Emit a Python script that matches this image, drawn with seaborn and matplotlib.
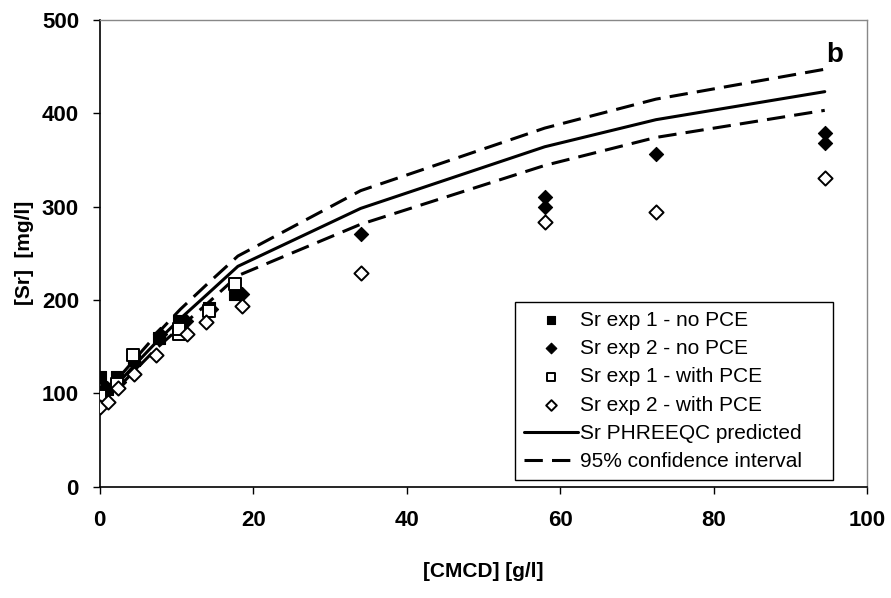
import matplotlib
matplotlib.use('Agg')
import matplotlib.pyplot as plt
import seaborn as sns

exp1_no_x = [0, 0, 1, 2.3, 4.5, 7.7, 10.3, 14.3, 17.6]
exp1_no_y = [117, 98, 105, 117, 136, 159, 178, 191, 206]

exp2_no_x = [0, 1, 2.5, 4.6, 7.8, 11.2, 14.5, 18.6, 34, 58, 58, 72.5, 94.5, 94.5]
exp2_no_y = [100, 106, 112, 133, 164, 178, 190, 206, 271, 299, 310, 356, 368, 379]

exp1_pce_x = [0, 2.3, 4.3, 10.3, 10.3, 14.3, 17.6]
exp1_pce_y = [97, 110, 141, 164, 169, 188, 217]

exp2_pce_x = [0, 1.1, 2.4, 4.5, 7.3, 11.4, 13.8, 18.6, 34, 58, 72.5, 94.5]
exp2_pce_y = [85, 91, 106, 121, 141, 164, 176, 194, 229, 283, 294, 331]

# PHREEQC model
model_x = [0, 1, 2.5, 4.5, 7.5, 10.5, 14, 18, 34, 58, 72.5, 94.5]
model_pred = [92, 100, 112, 130, 156, 180, 206, 236, 298, 364, 393, 423]
model_upper = [96, 104, 117, 136, 164, 190, 217, 247, 317, 384, 415, 447]
model_lower = [88, 96, 107, 124, 149, 171, 196, 226, 281, 344, 374, 403]

sns.set_style('white')
plt.rcParams['font.family'] = ['Liberation Sans', 'DejaVu Sans']
plt.rcParams['text.color'] = 'black'
plt.rcParams['axes.labelcolor'] = 'black'
plt.rcParams['xtick.color'] = 'black'
plt.rcParams['ytick.color'] = 'black'

fig = plt.figure(figsize=(8.91, 5.98), dpi=100)
ax = fig.add_axes([0.112, 0.186, 0.861, 0.781])

ms = 65
pad = '    '  # trailing space widens the legend box on the right
sns.scatterplot(x=exp1_no_x, y=exp1_no_y, ax=ax, marker='s', s=ms, color='black',
                edgecolor='black', linewidth=0.8, label='Sr exp 1 - no PCE' + pad, zorder=3)
sns.scatterplot(x=exp2_no_x, y=exp2_no_y, ax=ax, marker='D', s=ms * 0.8, color='black',
                edgecolor='black', linewidth=0.8, label='Sr exp 2 - no PCE' + pad, zorder=3)
sns.scatterplot(x=exp1_pce_x, y=exp1_pce_y, ax=ax, marker='s', s=ms, facecolor='white',
                edgecolor='black', linewidth=1.4, label='Sr exp 1 - with PCE' + pad, zorder=3)
sns.scatterplot(x=exp2_pce_x, y=exp2_pce_y, ax=ax, marker='D', s=ms * 0.8, facecolor='white',
                edgecolor='black', linewidth=1.4, label='Sr exp 2 - with PCE' + pad, zorder=3)

sns.lineplot(x=model_x, y=model_pred, ax=ax, color='black', lw=2.2,
             label='Sr PHREEQC predicted' + pad, zorder=2)
sns.lineplot(x=model_x, y=model_upper, ax=ax, color='black', lw=2.2,
             label='95% confidence interval' + pad, zorder=2)
sns.lineplot(x=model_x, y=model_lower, ax=ax, color='black', lw=2.2, zorder=2)
for ln in ax.lines[-2:]:
    ln.set_linestyle((0, (6, 3)))

ax.set_xlim(0, 100)
ax.set_ylim(0, 500)
ax.set_xticks(range(0, 101, 20))
ax.set_yticks(range(0, 501, 100))
ax.tick_params(axis='both', which='both', direction='out', length=5, width=1,
               labelsize=16, bottom=True, left=True, top=False, right=False)
ax.tick_params(axis='x', pad=12)
ax.tick_params(axis='y', pad=10)
for lab in ax.get_xticklabels() + ax.get_yticklabels():
    lab.set_fontweight('bold')

ax.set_xlabel('[CMCD] [g/l]', fontsize=15, fontweight='bold', labelpad=22)
ax.set_ylabel('[Sr]  [mg/l]', fontsize=15, fontweight='bold', labelpad=6)

for side in ['left', 'bottom']:
    ax.spines[side].set_color('black')
    ax.spines[side].set_linewidth(1.2)
for side in ['top', 'right']:
    ax.spines[side].set_color('#888888')
    ax.spines[side].set_linewidth(1.0)

ax.text(95.8, 462, 'b', fontsize=20, fontweight='bold', ha='center', va='center')

leg = ax.legend(loc='lower right', bbox_to_anchor=(0.956, 0.015), fontsize=15,
                frameon=True, fancybox=False, framealpha=1, edgecolor='black',
                handlelength=2.6, labelspacing=0.45, borderpad=0.4, handletextpad=0.1,
                markerscale=0.75, borderaxespad=0)
leg.get_frame().set_linewidth(1.0)

fig.savefig('out.png', dpi=100)
